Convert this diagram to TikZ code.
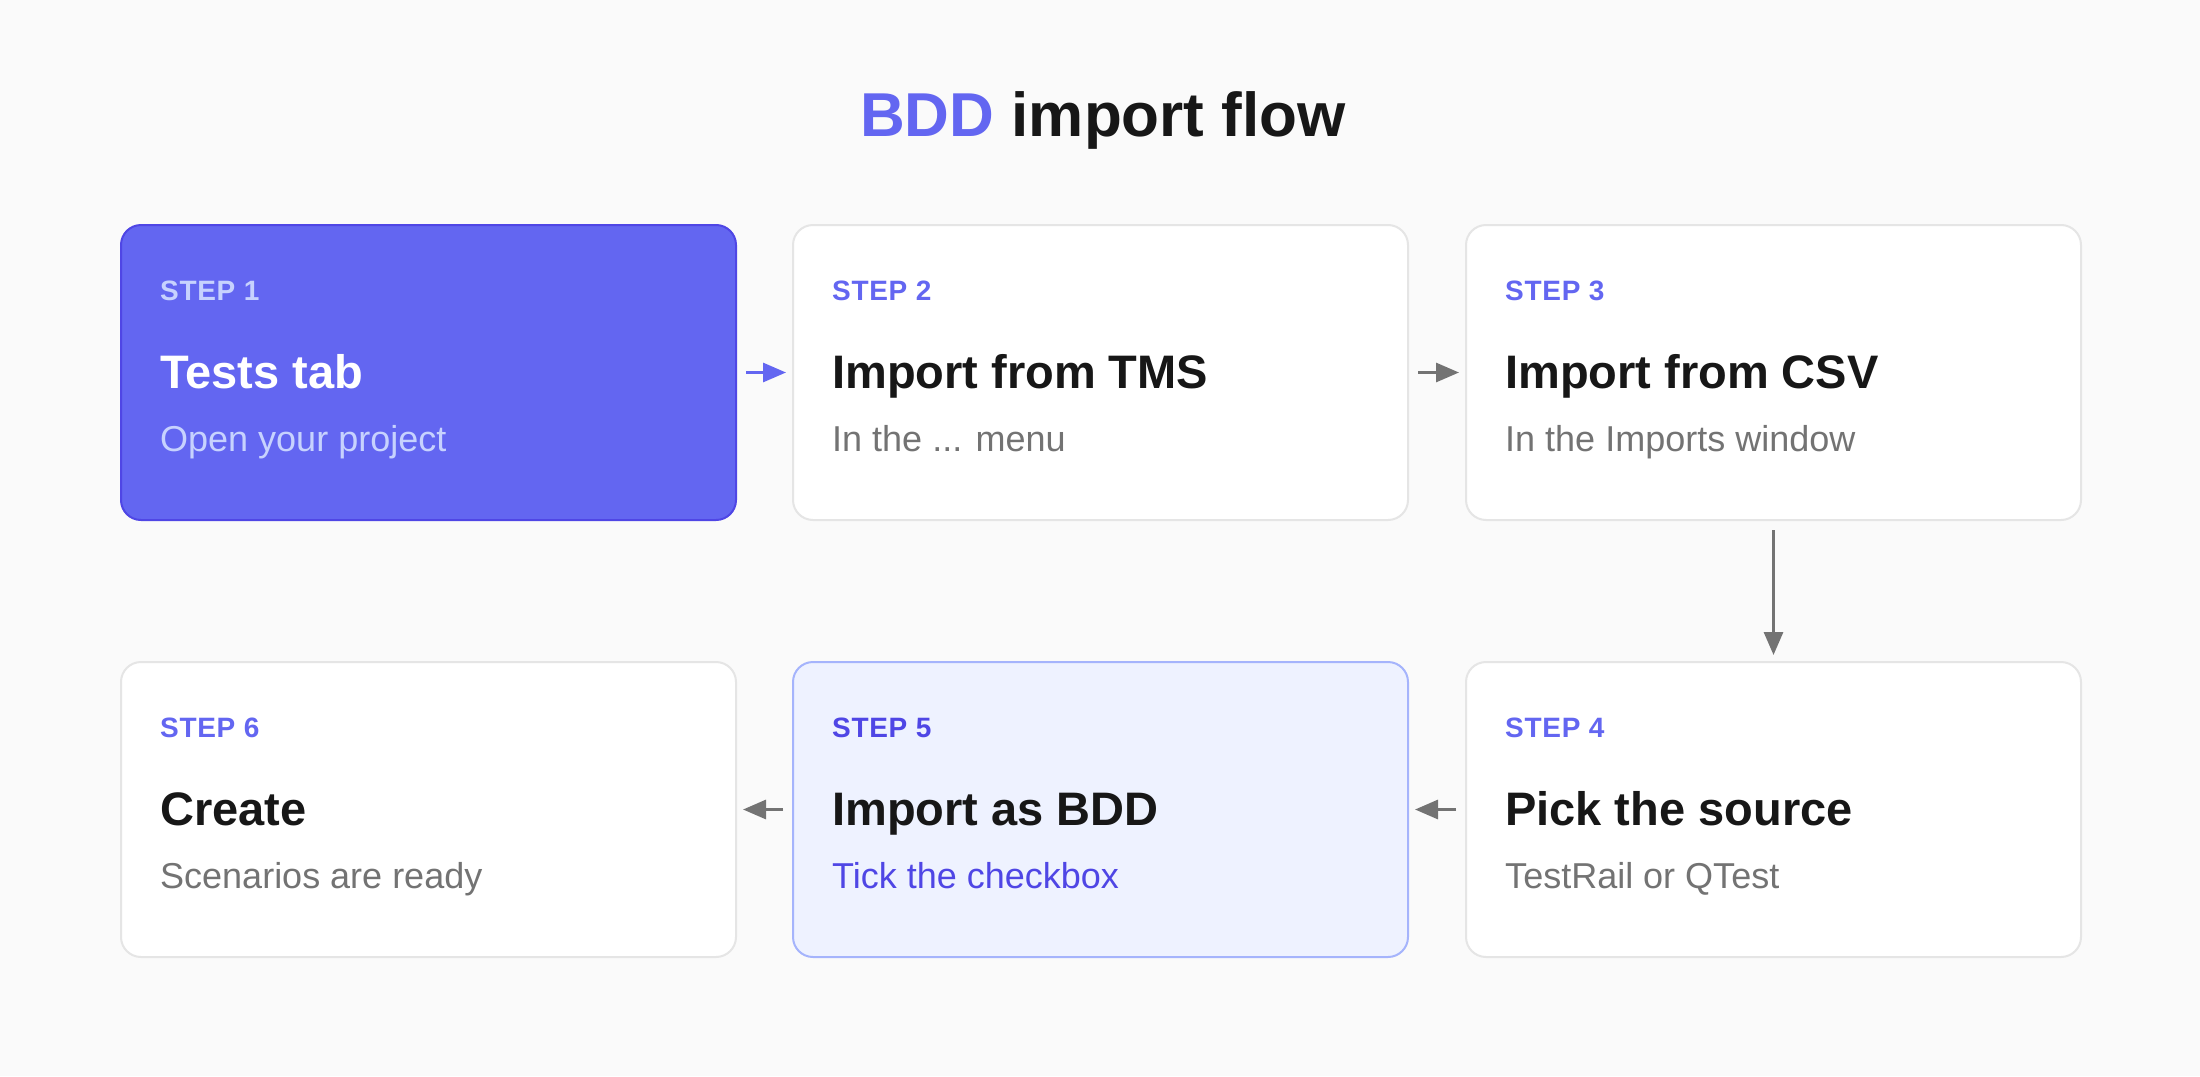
\documentclass[tikz,border=0pt]{standalone}
\usepackage{fontspec}
\setmainfont{Liberation Sans}
\usetikzlibrary{arrows.meta}
\definecolor{pagebg}{HTML}{FAFAFA}
\definecolor{accent}{HTML}{6366F1}
\definecolor{accentdark}{HTML}{4F46E5}
\definecolor{accentlight}{HTML}{C7D2FE}
\definecolor{accentpale}{HTML}{EEF2FF}
\definecolor{accentline}{HTML}{A5B4FC}
\definecolor{cardline}{HTML}{E5E5E5}
\definecolor{ink}{HTML}{171717}
\definecolor{muted}{HTML}{737373}
\begin{document}
\begin{tikzpicture}[x=1pt,y=1pt,
	card/.style={draw=cardline,fill=white,line width=2pt,rectangle,rounded corners=20pt,anchor=north west,minimum width=615pt,minimum height=295pt},
	stepno/.style={anchor=base west,inner sep=0pt,text=accent,font=\fontsize{28}{34}\selectfont\bfseries\addfontfeatures{LetterSpace=2.5}},
	cardtitle/.style={anchor=base west,inner sep=0pt,text=ink,font=\fontsize{47}{56}\selectfont\bfseries},
	cardsub/.style={anchor=base west,inner sep=0pt,text=muted,font=\fontsize{36}{43}\selectfont},
	flow/.style={-{Triangle[length=23pt,width=19pt]},line width=3pt,draw=muted,shorten <=9pt,shorten >=6pt}]
		\fill[pagebg] (0,0) rectangle (2200,-1076);
		\useasboundingbox (0,0) rectangle (2200,-1076);
		\node (title) at (1103,-136) [anchor=base,inner sep=0pt,text=ink,font=\fontsize{62}{74}\selectfont\bfseries] {{\color{accent}BDD} import flow};
		% top row
		\node (s1) at (120,-224) [card,draw=accentdark,fill=accent] {};
		\node at (160,-300) [stepno,text=accentlight] {STEP 1};
		\node at (160,-388) [cardtitle,text=white] {Tests tab};
		\node at (160,-451) [cardsub,text=accentlight] {Open your project};
		\node (s2) at (792,-224) [card] {};
		\node at (832,-300) [stepno] {STEP 2};
		\node at (832,-388) [cardtitle] {Import from TMS};
		\node at (832,-451) [cardsub] {In the ... menu};
		\node (s3) at (1465,-224) [card] {};
		\node at (1505,-300) [stepno] {STEP 3};
		\node at (1505,-388) [cardtitle] {Import from CSV};
		\node at (1505,-451) [cardsub] {In the Imports window};
		% bottom row
		\node (s4) at (1465,-661) [card] {};
		\node at (1505,-737) [stepno] {STEP 4};
		\node at (1505,-825) [cardtitle] {Pick the source};
		\node at (1505,-888) [cardsub] {TestRail or QTest};
		\node (s5) at (792,-661) [card,draw=accentline,fill=accentpale] {};
		\node at (832,-737) [stepno,text=accentdark] {STEP 5};
		\node at (832,-825) [cardtitle] {Import as BDD};
		\node at (832,-888) [cardsub,text=accentdark] {Tick the checkbox};
		\node (s6) at (120,-661) [card] {};
		\node at (160,-737) [stepno] {STEP 6};
		\node at (160,-825) [cardtitle] {Create};
		\node at (160,-888) [cardsub] {Scenarios are ready};
		\draw[flow,draw=accent,fill=accent] (s1)--(s2);
		\draw[flow,fill=muted] (s2)--(s3);
		\draw[flow,fill=muted] (s3)--(s4);
		\draw[flow,fill=muted] (s4)--(s5);
		\draw[flow,fill=muted] (s5)--(s6);
	\end{tikzpicture}
\end{document}
